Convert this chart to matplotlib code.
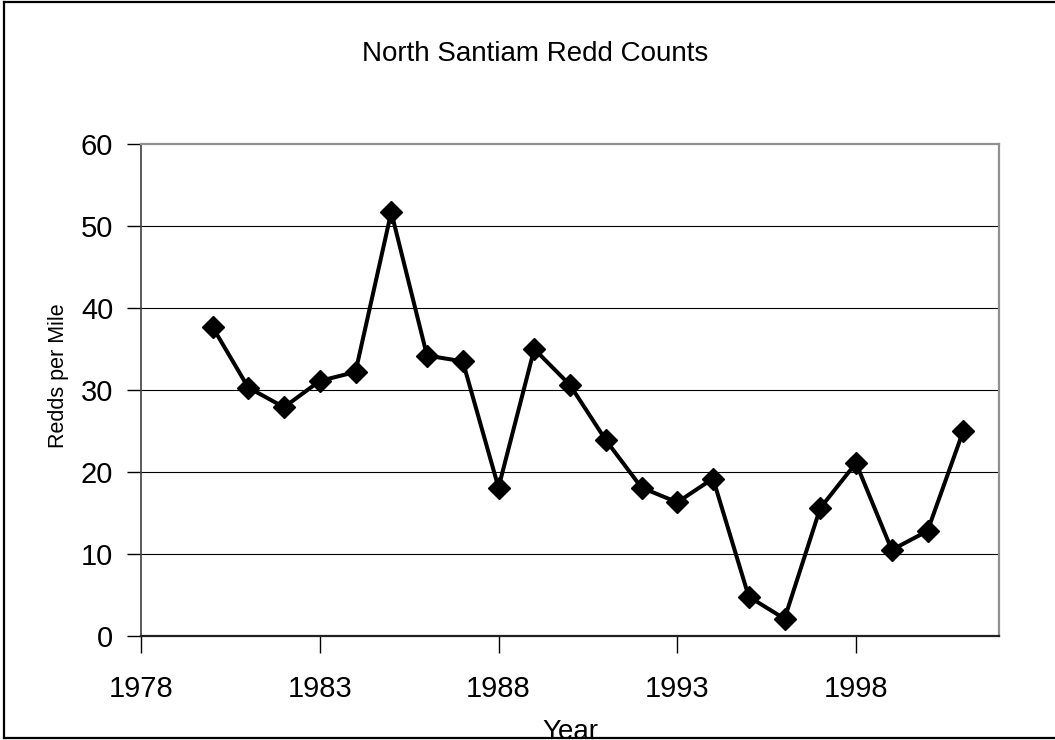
import matplotlib.pyplot as plt
from matplotlib.lines import Line2D

plt.rcParams['font.family'] = ['Liberation Sans', 'DejaVu Sans']

years = list(range(1980, 2002))
redds = [37.7, 30.3, 27.9, 31.1, 32.2, 51.7, 34.2, 33.5, 18.1, 35.0, 30.6,
         23.9, 18.1, 16.3, 19.2, 4.8, 2.1, 15.6, 21.1, 10.5, 12.8, 25.0]
xticks = [1978, 1983, 1988, 1993, 1998]
yticks = [0, 10, 20, 30, 40, 50, 60]

fig = plt.figure(figsize=(10.55, 7.4), dpi=100)
ax = fig.add_axes([141 / 1055, 1 - 636 / 740, 858 / 1055, 492 / 740])

for y in yticks[1:-1]:
    ax.axhline(y, color='black', lw=0.8, zorder=1)

ax.plot(years, redds, color='black', lw=2.9, marker='D', ms=11.5,
        zorder=3, clip_on=False)

ax.set_xlim(1978, 2002)
ax.set_ylim(0, 60)
ax.set_xticks(xticks)
ax.set_yticks(yticks)
ax.tick_params(axis='x', direction='out', length=12, width=1, pad=16,
               labelsize=21)
ax.tick_params(axis='y', direction='out', length=10, width=1, pad=10,
               labelsize=21)

for side in ['top', 'right']:
    ax.spines[side].set_color('#909090')
    ax.spines[side].set_linewidth(1.6)
ax.spines['left'].set_color('#404040')
ax.spines['left'].set_linewidth(1.2)
ax.spines['bottom'].set_color('#202020')
ax.spines['bottom'].set_linewidth(1.6)

ax.set_ylabel('Redds per Mile', fontsize=15.5)
ax.yaxis.set_label_coords(-0.084, 0.53)
fig.text(535 / 1055, 1 - 54 / 740, 'North Santiam Redd Counts',
         ha='center', va='center', fontsize=20)
fig.text(570 / 1055, 1 - 719 / 740, 'Year', ha='center', va='top',
         fontsize=20)

# outer frame (no right edge)
fig.add_artist(Line2D([4 / 1055, 4 / 1055], [1 - 738 / 740, 1 - 2 / 740],
                      color='black', lw=1.6, zorder=10))
fig.add_artist(Line2D([4 / 1055, 1], [1 - 2 / 740, 1 - 2 / 740],
                      color='black', lw=1.6, zorder=10))
fig.add_artist(Line2D([4 / 1055, 1], [1 - 738 / 740, 1 - 738 / 740],
                      color='black', lw=1.6, zorder=10))

plt.savefig('out.png', dpi=100)
plt.close()
